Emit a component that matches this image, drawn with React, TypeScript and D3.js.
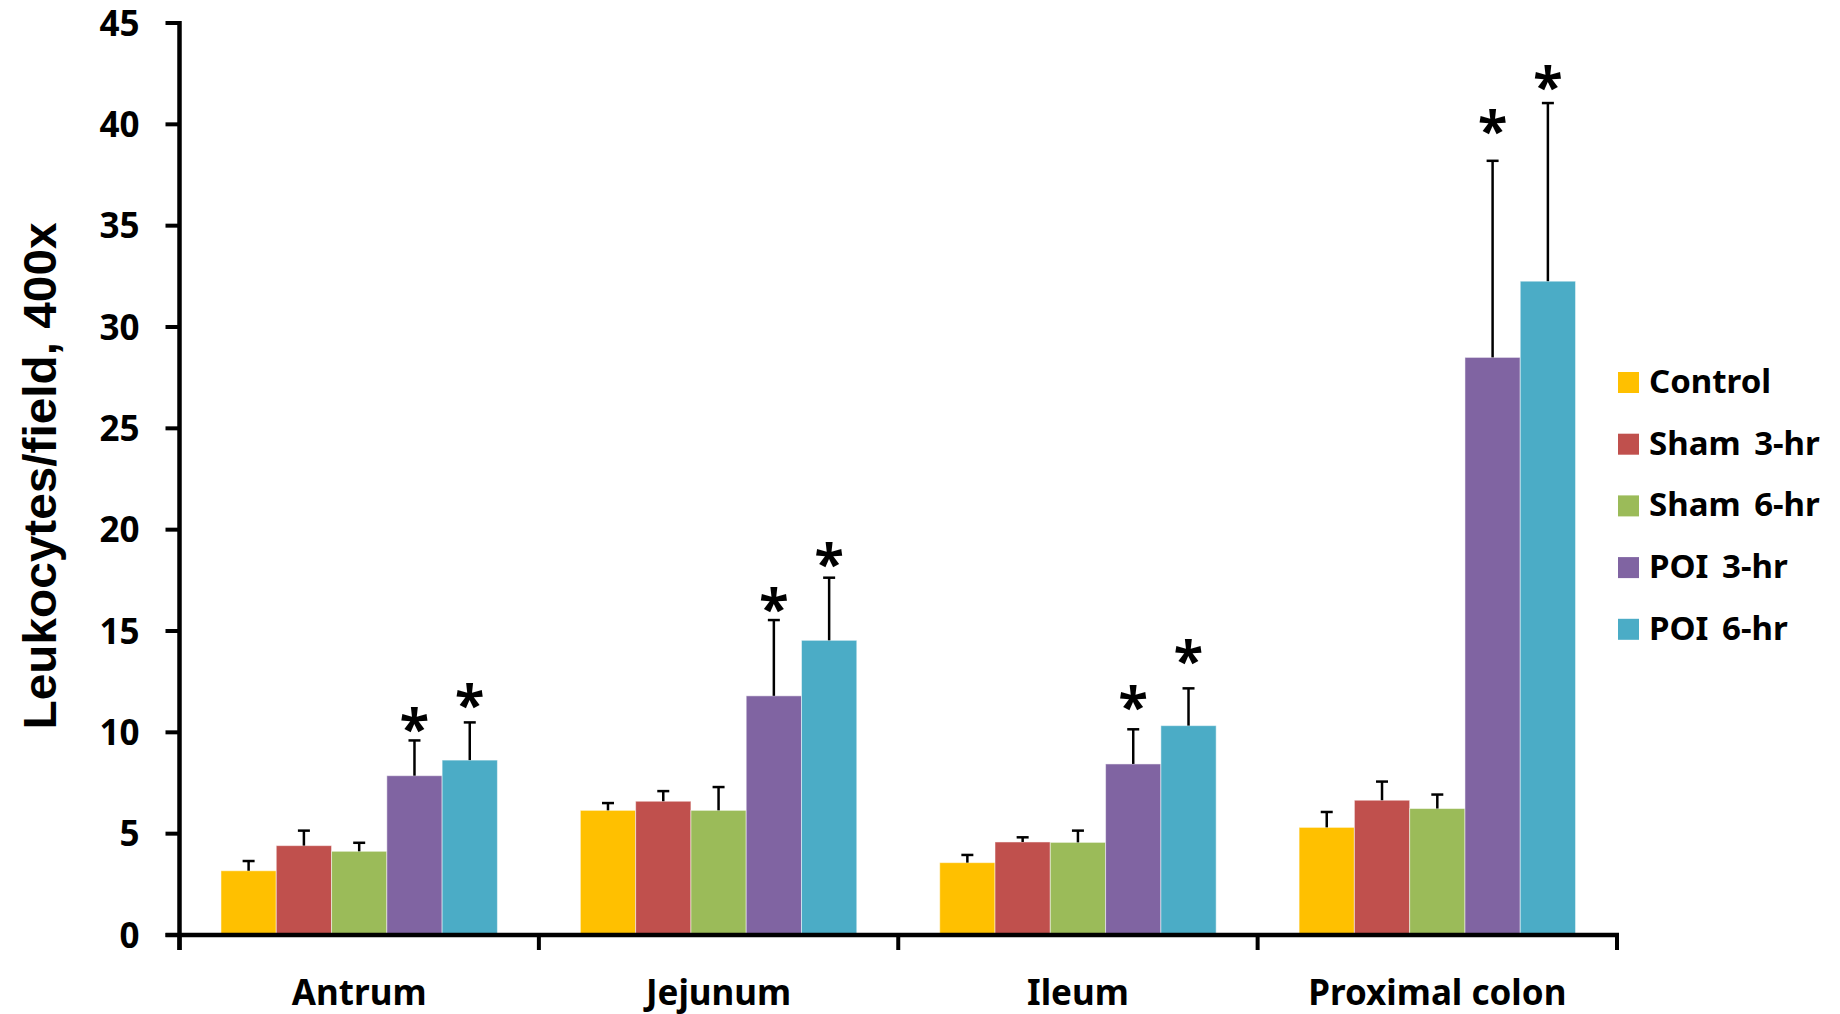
import React from "react";
import * as d3 from "d3";

// data
const regions = ["Antrum", "Jejunum", "Ileum", "Proximal colon"];
const groups = ["Control", "Sham 3-hr", "Sham 6-hr", "POI 3-hr", "POI 6-hr"];
const colors = ["#FFC000", "#C0504D", "#9BBB59", "#8064A2", "#4BACC6"];

const control = [3.17, 6.15, 3.57, 5.31];
const sham3 = [4.41, 6.6, 4.59, 6.65];
const sham6 = [4.13, 6.15, 4.57, 6.24];
const poi3 = [7.86, 11.8, 8.44, 28.5];
const poi6 = [8.63, 14.54, 10.33, 32.26];

const controlErr = [0.48, 0.36, 0.38, 0.76];
const sham3Err = [0.74, 0.5, 0.23, 0.92];
const sham6Err = [0.42, 1.15, 0.58, 0.69];
const poi3Err = [1.74, 3.74, 1.71, 9.7];
const poi6Err = [1.86, 3.09, 1.84, 8.79];

// asterisk centres (data units)
const poi3Star = [10.78, 16.69, 11.84, 40.3];
const poi6Star = [11.94, 18.91, 14.11, 42.43];

const yTicks = [0, 5, 10, 15, 20, 25, 30, 35, 40, 45];

const series = [control, sham3, sham6, poi3, poi6];
const errors = [controlErr, sham3Err, sham6Err, poi3Err, poi6Err];
const stars = [null, null, null, poi3Star, poi6Star];

const W = 1840,
  H = 1014;
const margin = { left: 179.5, right: 223, top: 23, bottom: 79 };

const App = () => {
  const x0 = d3
    .scaleBand()
    .domain(regions)
    .range([margin.left, W - margin.right])
    .paddingInner(0)
    .paddingOuter(0);

  const x1 = d3
    .scaleBand()
    .domain(groups)
    .range([0, x0.bandwidth()])
    .paddingOuter(0.75)
    .paddingInner(0);

  const y = d3
    .scaleLinear()
    .domain([0, 45])
    .range([H - margin.bottom, margin.top]);

  const y0 = y(0);
  const boundaries = [...regions.map((r) => x0(r)), W - margin.right];

  return (
    <svg
      width={W}
      height={H}
      style={{ position: "absolute", left: 0, top: 0, display: "block", background: "#fff" }}
    >
      {/* bars */}
      {regions.map((r, ri) => (
        <g key={r} transform={`translate(${x0(r)},0)`}>
          {groups.map((g, gi) => {
            const v = series[gi][ri];
            const e = errors[gi][ri];
            const bx = x1(g);
            const cx = bx + x1.bandwidth() / 2;
            const st = stars[gi];
            return (
              <g key={g}>
                <rect
                  x={bx}
                  y={y(v)}
                  width={x1.bandwidth()}
                  height={y0 - y(v)}
                  fill={colors[gi]}
                  stroke="#fff"
                  strokeOpacity={0.5}
                  strokeWidth={1}
                />
                <line x1={cx} x2={cx} y1={y(v)} y2={y(v + e)} stroke="#000" strokeWidth={2.5} />
                <line x1={cx - 6} x2={cx + 6} y1={y(v + e)} y2={y(v + e)} stroke="#000" strokeWidth={2.5} />
                {st && (
                  <text
                    x={cx}
                    y={y(st[ri])}
                    dy="0.58em"
                    textAnchor="middle"
                    fontFamily="Noto Sans"
                    fontWeight="bold"
                    fontSize={54}
                  >
                    *
                  </text>
                )}
              </g>
            );
          })}
        </g>
      ))}

      {/* y axis */}
      <line x1={margin.left} x2={margin.left} y1={y(45) - 2} y2={y0 + 15} stroke="#000" strokeWidth={4.5} />
      {yTicks.map((t) => (
        <g key={t}>
          <line x1={margin.left - 14} x2={margin.left} y1={y(t)} y2={y(t)} stroke="#000" strokeWidth={4} />
          <text
            x={margin.left - 40}
            y={y(t)}
            dy="0.36em"
            textAnchor="end"
            fontFamily="Noto Sans"
            fontWeight="bold"
            fontSize={35}
          >
            {t}
          </text>
        </g>
      ))}

      {/* x axis */}
      <line x1={margin.left - 14} x2={W - margin.right + 2} y1={y0} y2={y0} stroke="#000" strokeWidth={4.5} />
      {boundaries.map((b, i) => (
        <line key={i} x1={b} x2={b} y1={y0} y2={y0 + 15} stroke="#000" strokeWidth={4} />
      ))}
      {regions.map((r) => (
        <text
          key={r}
          x={x0(r) + x0.bandwidth() / 2}
          y={1005}
          textAnchor="middle"
          fontFamily="Noto Sans"
          fontWeight="bold"
          fontSize={35}
        >
          {r}
        </text>
      ))}

      {/* y label */}
      <text
        transform={`translate(56,${(y(45) + y0) / 2 - 3}) rotate(-90)`}
        textAnchor="middle"
        fontFamily="Liberation Sans"
        fontWeight="bold"
        fontSize={47}
        textLength={507}
        lengthAdjust="spacingAndGlyphs"
      >
        Leukocytes/field, 400x
      </text>

      {/* legend */}
      {groups.map((g, i) => (
        <g key={g} transform={`translate(1618,${372 + i * 61.7})`}>
          <rect width={21} height={21} fill={colors[i]} />
          <text x={31} y={21} fontFamily="Noto Sans" fontWeight="bold" fontSize={33} wordSpacing={5}>
            {g}
          </text>
        </g>
      ))}
    </svg>
  );
};

export default App;
